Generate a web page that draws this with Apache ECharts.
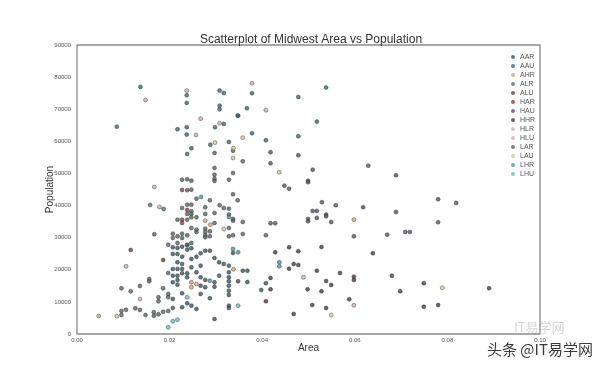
<!DOCTYPE html>
<html><head><meta charset="utf-8">
<script src="https://cdn.jsdelivr.net/npm/echarts@6/dist/echarts.min.js"></script>
<style>html,body{margin:0;padding:0;background:#fff}#c{width:600px;height:375px}</style>
</head><body><div id="c"></div>
<script>
const categories = ['AAR','AAU','AHR','ALR','ALU','HAR','HAU','HHR','HLR','HLU','LAR','LAU','LHR','LHU'];
const colors = ['#3a5560','#3f6670','#d8a27a','#55785a','#6a3a3a','#8a3f45','#5a5068','#4a3a38','#d4aabb','#ccb0bc','#5a6462','#d0cc98','#4a9aa4','#6cbcc4'];
const xTicks = [0, 0.02, 0.04, 0.06, 0.08, 0.10];
const yTicks = [0,10000,20000,30000,40000,50000,60000,70000,80000,90000];

// [area, population]
const AAR = [[.0207,27010],[.0207,24920],[.0217,26790],[.0217,24920],[.0227,27200],[.0227,24080],[.0238,27630],[.0238,26260],[.0247,26700],[.0247,23360],[.0258,24080],[.0267,25140],[.0277,25950],[.0287,25950],[.0297,23680],[.0307,22340],[.0317,21810],[.0337,25230],[.0328,21280],[.0358,19720],[.0368,19720],[.0348,16420],[.0368,16200],[.0328,19220],[.0328,17660],[.0328,16420],[.0328,15050],[.0328,13490],[.0328,12150],[.0307,18160],[.0297,16100],[.0297,14740],[.0277,16820],[.0267,15050],[.0277,14550],[.0238,18910],[.0238,17660],[.0227,21810],[.0227,20250],[.0227,18910],[.0217,22340],[.0217,20250],[.0207,20250],[.0207,18160],[.0217,18160],[.0217,16820],[.0217,15360],[.0207,16100],[.0247,20770],[.0258,19220],[.0267,21280],[.0267,17660],[.0207,10900],[.0227,12670],[.0238,9560],[.0247,8830],[.0227,8320],[.0207,8100],[.0258,7790],[.0267,12460],[.0287,11120],[.0297,4670],[.0328,8830],[.0328,8100],[.0398,13710],[.0408,15800]];
const AAU = [[.0137,76950],[.0086,64580],[.0237,74360],[.0237,71960],[.0308,75800],[.0317,75080],[.0308,71120],[.0308,70000],[.0348,68000],[.0217,63770],[.0237,64390],[.0237,62090],[.0298,64390],[.0317,65420],[.0247,57850],[.0288,58970],[.0328,59810],[.0378,74990],[.0538,76730],[.0478,73830],[.0367,70310],[.0347,68010],[.0518,66140],[.0378,62520],[.0408,60340],[.0478,61590]];
const AHR = [[.0277,35300],[.0288,34050],[.0598,35610],[.0047,5610],[.0338,20160],[.0247,16100],[.0247,14550],[.0258,15580]];
const ALR = [[.0158,40190],[.0187,38940]];
const ALU = [[.0116,26170],[.0186,23050]];
const HAR = [[.0227,44860],[.0238,38630],[.0227,35610],[.0227,34580]];
const HAU = [[.0418,56630],[.0478,55670],[.0418,53180],[.0509,51180],[.0629,52430],[.0689,49440],[.0499,47760],[.0499,47260],[.0448,46200],[.0458,45270],[.0529,41030],[.0559,40090],[.0618,39470],[.0780,41960],[.0819,40810],[.0509,38320],[.0518,38320],[.0518,36140],[.0538,37180],[.0538,36670],[.0499,35830],[.0499,35110],[.0549,34890],[.0689,38010],[.0780,34800],[.0418,34490],[.0428,34490],[.0598,30440],[.0670,30940],[.0709,31780],[.0719,31780]];
const HHR = [[.0428,25450],[.0458,27010],[.0478,25760],[.0528,27100],[.0639,25140],[.0458,20340],[.0468,21810],[.0478,21500],[.0418,17450],[.0518,19720],[.0568,19000],[.0538,16510],[.0549,15260],[.0598,17850],[.0598,16820],[.0680,18160],[.0418,13930],[.0498,13930],[.0528,13300],[.0408,10190],[.0588,10810],[.0698,13300],[.0749,15800],[.0890,14240],[.0508,9030],[.0538,8100],[.0749,8500],[.0780,9030],[.0468,6230]];
const HLR = [[.0148,72900],[.0237,75800],[.0267,67070],[.0378,78100],[.0167,45790],[.0106,21090],[.0489,17660]];
const HLU = [[.0257,62000],[.0308,65640],[.0408,69690],[.0178,39560],[.0136,10900],[.0598,8940]];
const LAR = [[.0167,31060],[.0197,27820],[.0156,17130],[.0156,16420],[.0096,14240],[.0116,13300],[.0136,14950],[.0186,14240],[.0197,12460],[.0197,11430],[.0176,11430],[.0176,10190],[.0126,8000],[.0136,7480],[.0106,7570],[.0096,7170],[.0096,5920],[.0148,5920],[.0166,6760],[.0166,5700],[.0176,6140],[.0186,6950],[.0197,7170],[.0197,19000],
  [.0238,56070],[.0297,56390],[.0337,57100],[.0358,53800],[.0297,51710],[.0297,49630],[.0297,48380],[.0297,47660],[.0337,50150],[.0328,48070],[.0227,48070],[.0238,48190],[.0247,47760],[.0238,44770],[.0247,44960],[.0258,42150],[.0287,41650],[.0337,43520],[.0347,41650],[.0227,39250],[.0238,40280],[.0247,40280],[.0277,39470],[.0308,40090],[.0317,39250],[.0328,39040],[.0247,38220],[.0238,37380],[.0247,37380],[.0297,37700],[.0277,37380],[.0328,37180],[.0217,35610],[.0238,35610],[.0247,36360],[.0258,36360],[.0297,34580],[.0337,35830],[.0337,35300],[.0358,34890],[.0247,33020],[.0258,32490],[.0277,32800],[.0328,33020],[.0207,31250],[.0217,30440],[.0227,31250],[.0227,29910],[.0238,30750],[.0258,31780],[.0277,31780],[.0277,30750],[.0277,30120],[.0287,31990],[.0287,30440],[.0328,30440],[.0337,30750],[.0358,31150],[.0408,30750],[.0207,29910],[.0238,27820],[.0247,28350],[.0217,28350]];
const LAU = [[.0298,59600],[.0338,57850],[.0358,61150],[.0337,54830],[.0317,32710],[.0437,50370],[.0086,5510],[.0789,14420],[.0549,5920]];
const LHR = [[.0268,42680],[.0328,36450],[.0337,26480],[.0348,25450],[.0437,22340],[.0437,21090],[.0287,16600]];
const LHU = [[.0197,2090],[.0238,11430],[.0348,8830],[.0207,3960],[.0217,4460]];

const seriesData = [AAR,AAU,AHR,ALR,ALU,HAR,HAU,HHR,HLR,HLU,LAR,LAU,LHR,LHU];

const chart = echarts.init(document.getElementById('c'), null, {renderer:'canvas'});
chart.setOption({
  backgroundColor:'#fff',
  animation:false,
  title:{text:'Scatterplot of Midwest Area vs Population',left:306,top:29,textAlign:'center',
    textStyle:{fontFamily:'Liberation Sans, Arial',fontSize:12,fontWeight:'normal',color:'#333'}},
  grid:{left:77,right:60,top:45,bottom:41,show:true,borderColor:'#8a8a8a',borderWidth:1.3,backgroundColor:'#fff'},
  legend:{orient:'vertical',left:506,top:48,itemWidth:4,itemHeight:4,itemGap:1,icon:'circle',
    itemStyle:{borderWidth:0},
    data:categories,textStyle:{fontFamily:'Liberation Sans, Arial',fontSize:7,lineHeight:8,color:'#555',padding:[0,0,0,0]}},
  xAxis:{type:'value',min:0,max:0.1,interval:0.02,name:'Area',nameLocation:'middle',nameGap:9,nameMoveOverlap:false,
    nameTextStyle:{fontFamily:'Liberation Sans, Arial',fontSize:10,color:'#333'},
    axisLine:{show:false},axisTick:{show:false},splitLine:{show:false},
    axisLabel:{fontSize:6,color:'#555',margin:3,formatter:v=>v.toFixed(2)}},
  yAxis:{type:'value',min:0,max:90000,interval:10000,name:'Population',nameLocation:'middle',nameGap:22,nameMoveOverlap:false,
    nameTextStyle:{fontFamily:'Liberation Sans, Arial',fontSize:10,color:'#333'},
    axisLine:{show:false},axisTick:{show:false},splitLine:{show:false},
    axisLabel:{fontSize:6,color:'#555',margin:6,formatter:v=>String(v)}},
  graphic:[
    {type:'text',left:514,top:321,style:{text:'IT易学网',fontSize:13,fill:'rgba(120,120,120,0.3)',fontFamily:'Noto Sans CJK SC'}},
    {type:'text',left:487,top:342,style:{text:'头条 @IT易学网',fontSize:15,fill:'#3a3a3a',fontFamily:'Noto Sans CJK SC'}}
  ],
  series: categories.map((c,i)=>({
    name:c,type:'scatter',data:seriesData[i],symbolSize:4,
    itemStyle:{color:colors[i],borderColor:'#2a2a2a',borderWidth:0.5}
  }))
});
</script></body></html>
